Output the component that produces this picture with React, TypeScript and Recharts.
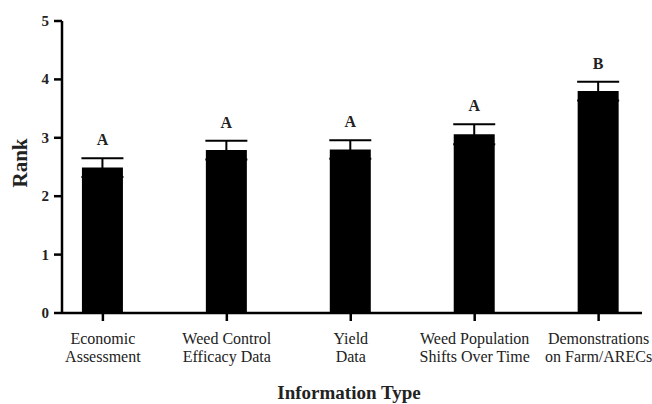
import { BarChart, Bar, XAxis, YAxis, ErrorBar, LabelList } from 'recharts';

const categories = [
  ['Economic', 'Assessment'],
  ['Weed Control', 'Efficacy Data'],
  ['Yield', 'Data'],
  ['Weed Population', 'Shifts Over Time'],
  ['Demonstrations', 'on Farm/ARECs'],
];
const means = [2.49, 2.79, 2.8, 3.06, 3.8];
const errs = [0.16, 0.16, 0.16, 0.17, 0.16];
const letters = ['A', 'A', 'A', 'A', 'B'];
const yTicks = [0, 1, 2, 3, 4, 5];

const data = means.map((m, i) => ({ idx: i, mean: m, err: errs[i], letter: letters[i] }));

const FONT =
  "'Liberation Serif', 'Times New Roman', Times, Tinos, 'DejaVu Serif', 'Noto Serif', FreeSerif, serif";

function XTick(props: any) {
  const { x, y, payload } = props;
  const lines = categories[payload.value] || [];
  return (
    <g>
      {lines.map((l, i) => (
        <text
          key={i}
          x={x}
          y={y + 21 + i * 18}
          textAnchor="middle"
          style={{ fontFamily: FONT, fontSize: 16 }}
          fill="#222"
        >
          {l}
        </text>
      ))}
    </g>
  );
}

function YTick(props: any) {
  const { x, y, payload } = props;
  return (
    <text
      x={x}
      y={y}
      textAnchor="end"
      dominantBaseline="central"
      style={{ fontFamily: FONT, fontSize: 15, fontWeight: 'bold' }}
      fill="#222"
    >
      {payload.value}
    </text>
  );
}

function LetterLabel(props: any) {
  const { x, y, width, height, index } = props;
  const ppu = height / means[index];
  const top = y - errs[index] * ppu;
  return (
    <text
      x={x + width / 2}
      y={top - 13}
      textAnchor="middle"
      style={{ fontFamily: FONT, fontSize: 16, fontWeight: 'bold' }}
      fill="#222"
    >
      {letters[index]}
    </text>
  );
}

export default function App() {
  return (
    <div style={{ position: 'absolute', left: 0, top: 0, width: 652, height: 404, background: '#fff', fontFamily: FONT }}>
      <BarChart width={652} height={404} data={data} margin={{ top: 21, right: 10, bottom: 0, left: 0 }}>
        <XAxis
          dataKey="idx"
          type="number"
          domain={[-0.33, 4.35]}
          ticks={[0, 1, 2, 3, 4]}
          height={91}
          tick={<XTick />}
          tickSize={8}
          axisLine={{ stroke: '#000', strokeWidth: 2.5 }}
          tickLine={{ stroke: '#000', strokeWidth: 2.5 }}
          label={{
            content: () => (
              <text
                x={349}
                y={399}
                textAnchor="middle"
                style={{ fontFamily: FONT, fontSize: 19, fontWeight: 'bold' }}
                fill="#222"
              >
                Information Type
              </text>
            ),
          }}
        />
        <YAxis
          type="number"
          domain={[0, 5]}
          ticks={yTicks}
          width={62}
          tickSize={8}
          tickMargin={5}
          axisLine={{ stroke: '#000', strokeWidth: 2.5 }}
          tickLine={{ stroke: '#000', strokeWidth: 2.5 }}
          tick={<YTick />}
          label={{
            content: () => (
              <text
                x={20}
                y={163}
                transform="rotate(-90 20 163)"
                textAnchor="middle"
                dominantBaseline="central"
                style={{ fontFamily: FONT, fontSize: 21, fontWeight: 'bold' }}
                fill="#222"
              >
                Rank
              </text>
            ),
          }}
        />
        <Bar dataKey="mean" fill="#000" barSize={41} isAnimationActive={false}>
          <ErrorBar dataKey="err" width={21} stroke="#000" strokeWidth={2} isAnimationActive={false} />
          <LabelList dataKey="letter" content={<LetterLabel />} />
        </Bar>
      </BarChart>
    </div>
  );
}
